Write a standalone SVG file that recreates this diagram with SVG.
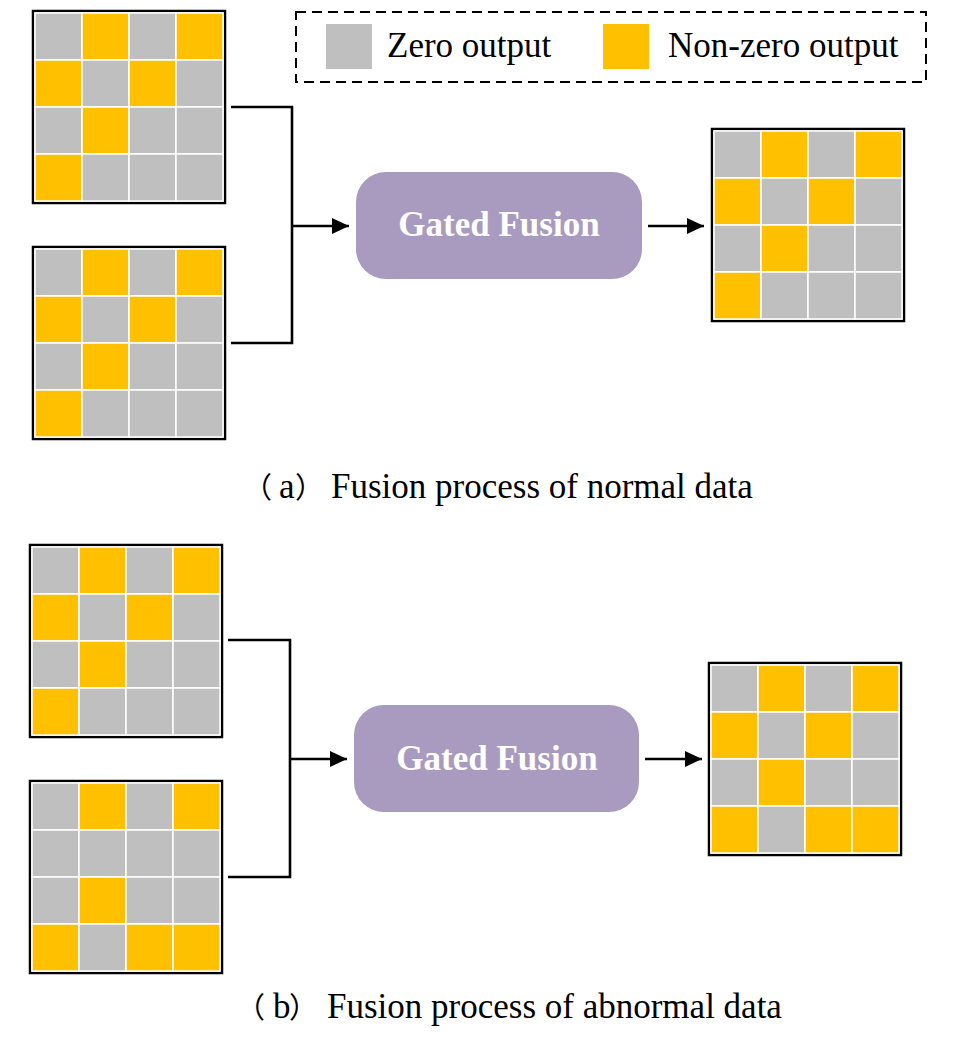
<svg xmlns="http://www.w3.org/2000/svg" width="954" height="1049" viewBox="0 0 954 1049">
<style>
.g{fill:#BFBFBF;stroke:#FFFFFF;stroke-width:1.5}
.y{fill:#FFC000;stroke:#FFFFFF;stroke-width:1.5}
.frame{fill:#FFFFFF;stroke:#000000;stroke-width:2.5}
.conn{fill:none;stroke:#000000;stroke-width:2.6}
.box{fill:#A99BBF}
.boxt{font-family:"Liberation Serif","Times New Roman",serif;font-weight:bold;font-size:35px;fill:#FFFFFF;text-anchor:middle}
.lbl{font-family:"Liberation Serif","Times New Roman",serif;font-size:35px;fill:#000000}
.cjk{font-family:"Noto Sans CJK SC",sans-serif;font-size:29px;fill:#000000}
</style>
<defs>
<marker id="arr" viewBox="0 0 17 16" refX="17" refY="8" markerWidth="17" markerHeight="16" markerUnits="userSpaceOnUse" orient="auto">
<path d="M0,0 L17,8 L0,16 Z" fill="#000000"/>
</marker>
</defs>

<g id="legend">
<rect x="296" y="12" width="630" height="70" fill="none" stroke="#000000" stroke-width="2" stroke-dasharray="10 6"/>
<rect x="326" y="24" width="46" height="45" fill="#BFBFBF"/>
<text class="lbl" x="387" y="57">Zero output</text>
<rect x="603" y="24" width="46" height="45" fill="#FFC000"/>
<text class="lbl" x="668" y="57">Non-zero output</text>
</g>

<!-- Top section -->
<g id="a-in1" transform="translate(33,11)">
<rect class="frame" x="0" y="0" width="192" height="192"/>
<rect class="g" x="2" y="2" width="47" height="47"/><rect class="y" x="49" y="2" width="47" height="47"/><rect class="g" x="96" y="2" width="47" height="47"/><rect class="y" x="143" y="2" width="47" height="47"/>
<rect class="y" x="2" y="49" width="47" height="47"/><rect class="g" x="49" y="49" width="47" height="47"/><rect class="y" x="96" y="49" width="47" height="47"/><rect class="g" x="143" y="49" width="47" height="47"/>
<rect class="g" x="2" y="96" width="47" height="47"/><rect class="y" x="49" y="96" width="47" height="47"/><rect class="g" x="96" y="96" width="47" height="47"/><rect class="g" x="143" y="96" width="47" height="47"/>
<rect class="y" x="2" y="143" width="47" height="47"/><rect class="g" x="49" y="143" width="47" height="47"/><rect class="g" x="96" y="143" width="47" height="47"/><rect class="g" x="143" y="143" width="47" height="47"/>
</g>
<g id="a-in2" transform="translate(33,247)">
<rect class="frame" x="0" y="0" width="192" height="192"/>
<rect class="g" x="2" y="2" width="47" height="47"/><rect class="y" x="49" y="2" width="47" height="47"/><rect class="g" x="96" y="2" width="47" height="47"/><rect class="y" x="143" y="2" width="47" height="47"/>
<rect class="y" x="2" y="49" width="47" height="47"/><rect class="g" x="49" y="49" width="47" height="47"/><rect class="y" x="96" y="49" width="47" height="47"/><rect class="g" x="143" y="49" width="47" height="47"/>
<rect class="g" x="2" y="96" width="47" height="47"/><rect class="y" x="49" y="96" width="47" height="47"/><rect class="g" x="96" y="96" width="47" height="47"/><rect class="g" x="143" y="96" width="47" height="47"/>
<rect class="y" x="2" y="143" width="47" height="47"/><rect class="g" x="49" y="143" width="47" height="47"/><rect class="g" x="96" y="143" width="47" height="47"/><rect class="g" x="143" y="143" width="47" height="47"/>
</g>
<g id="a-fusion">
<rect class="box" x="356" y="172" width="286" height="107" rx="30" ry="30"/>
<text class="boxt" x="499" y="236">Gated Fusion</text>
</g>
<g id="a-out" transform="translate(712,129)">
<rect class="frame" x="0" y="0" width="192" height="192"/>
<rect class="g" x="2" y="2" width="47" height="47"/><rect class="y" x="49" y="2" width="47" height="47"/><rect class="g" x="96" y="2" width="47" height="47"/><rect class="y" x="143" y="2" width="47" height="47"/>
<rect class="y" x="2" y="49" width="47" height="47"/><rect class="g" x="49" y="49" width="47" height="47"/><rect class="y" x="96" y="49" width="47" height="47"/><rect class="g" x="143" y="49" width="47" height="47"/>
<rect class="g" x="2" y="96" width="47" height="47"/><rect class="y" x="49" y="96" width="47" height="47"/><rect class="g" x="96" y="96" width="47" height="47"/><rect class="g" x="143" y="96" width="47" height="47"/>
<rect class="y" x="2" y="143" width="47" height="47"/><rect class="g" x="49" y="143" width="47" height="47"/><rect class="g" x="96" y="143" width="47" height="47"/><rect class="g" x="143" y="143" width="47" height="47"/>
</g>
<g id="caption-a">
<text class="lbl"><tspan class="cjk" x="243" y="498">（</tspan><tspan x="279" y="498">a</tspan><tspan class="cjk" x="295" y="498">）</tspan><tspan x="331" y="498">Fusion process of normal data</tspan></text>
</g>

<!-- Bottom section -->
<g id="b-in1" transform="translate(30,545)">
<rect class="frame" x="0" y="0" width="192" height="192"/>
<rect class="g" x="2" y="2" width="47" height="47"/><rect class="y" x="49" y="2" width="47" height="47"/><rect class="g" x="96" y="2" width="47" height="47"/><rect class="y" x="143" y="2" width="47" height="47"/>
<rect class="y" x="2" y="49" width="47" height="47"/><rect class="g" x="49" y="49" width="47" height="47"/><rect class="y" x="96" y="49" width="47" height="47"/><rect class="g" x="143" y="49" width="47" height="47"/>
<rect class="g" x="2" y="96" width="47" height="47"/><rect class="y" x="49" y="96" width="47" height="47"/><rect class="g" x="96" y="96" width="47" height="47"/><rect class="g" x="143" y="96" width="47" height="47"/>
<rect class="y" x="2" y="143" width="47" height="47"/><rect class="g" x="49" y="143" width="47" height="47"/><rect class="g" x="96" y="143" width="47" height="47"/><rect class="g" x="143" y="143" width="47" height="47"/>
</g>
<g id="b-in2" transform="translate(30,781)">
<rect class="frame" x="0" y="0" width="192" height="192"/>
<rect class="g" x="2" y="2" width="47" height="47"/><rect class="y" x="49" y="2" width="47" height="47"/><rect class="g" x="96" y="2" width="47" height="47"/><rect class="y" x="143" y="2" width="47" height="47"/>
<rect class="g" x="2" y="49" width="47" height="47"/><rect class="g" x="49" y="49" width="47" height="47"/><rect class="g" x="96" y="49" width="47" height="47"/><rect class="g" x="143" y="49" width="47" height="47"/>
<rect class="g" x="2" y="96" width="47" height="47"/><rect class="y" x="49" y="96" width="47" height="47"/><rect class="g" x="96" y="96" width="47" height="47"/><rect class="g" x="143" y="96" width="47" height="47"/>
<rect class="y" x="2" y="143" width="47" height="47"/><rect class="g" x="49" y="143" width="47" height="47"/><rect class="y" x="96" y="143" width="47" height="47"/><rect class="y" x="143" y="143" width="47" height="47"/>
</g>
<g id="b-fusion">
<rect class="box" x="354" y="705" width="285" height="107" rx="30" ry="30"/>
<text class="boxt" x="497" y="770">Gated Fusion</text>
</g>
<g id="b-out" transform="translate(709,663)">
<rect class="frame" x="0" y="0" width="192" height="192"/>
<rect class="g" x="2" y="2" width="47" height="47"/><rect class="y" x="49" y="2" width="47" height="47"/><rect class="g" x="96" y="2" width="47" height="47"/><rect class="y" x="143" y="2" width="47" height="47"/>
<rect class="y" x="2" y="49" width="47" height="47"/><rect class="g" x="49" y="49" width="47" height="47"/><rect class="y" x="96" y="49" width="47" height="47"/><rect class="g" x="143" y="49" width="47" height="47"/>
<rect class="g" x="2" y="96" width="47" height="47"/><rect class="y" x="49" y="96" width="47" height="47"/><rect class="g" x="96" y="96" width="47" height="47"/><rect class="g" x="143" y="96" width="47" height="47"/>
<rect class="y" x="2" y="143" width="47" height="47"/><rect class="g" x="49" y="143" width="47" height="47"/><rect class="y" x="96" y="143" width="47" height="47"/><rect class="y" x="143" y="143" width="47" height="47"/>
</g>
<g id="caption-b">
<text class="lbl"><tspan class="cjk" x="236" y="1018">（</tspan><tspan x="273" y="1018">b</tspan><tspan class="cjk" x="289" y="1018">）</tspan><tspan x="327" y="1018">Fusion process of abnormal data</tspan></text>
</g>

<g id="connectors">
<polyline class="conn" points="231,107 292,107 292,343 231,343"/>
<line class="conn" x1="292" y1="226" x2="349" y2="226" marker-end="url(#arr)"/>
<line class="conn" x1="648" y1="226" x2="704" y2="226" marker-end="url(#arr)"/>
<polyline class="conn" points="228,640 290,640 290,877 228,877"/>
<line class="conn" x1="290" y1="759" x2="347" y2="759" marker-end="url(#arr)"/>
<line class="conn" x1="645" y1="759" x2="702" y2="759" marker-end="url(#arr)"/>
</g>
</svg>
